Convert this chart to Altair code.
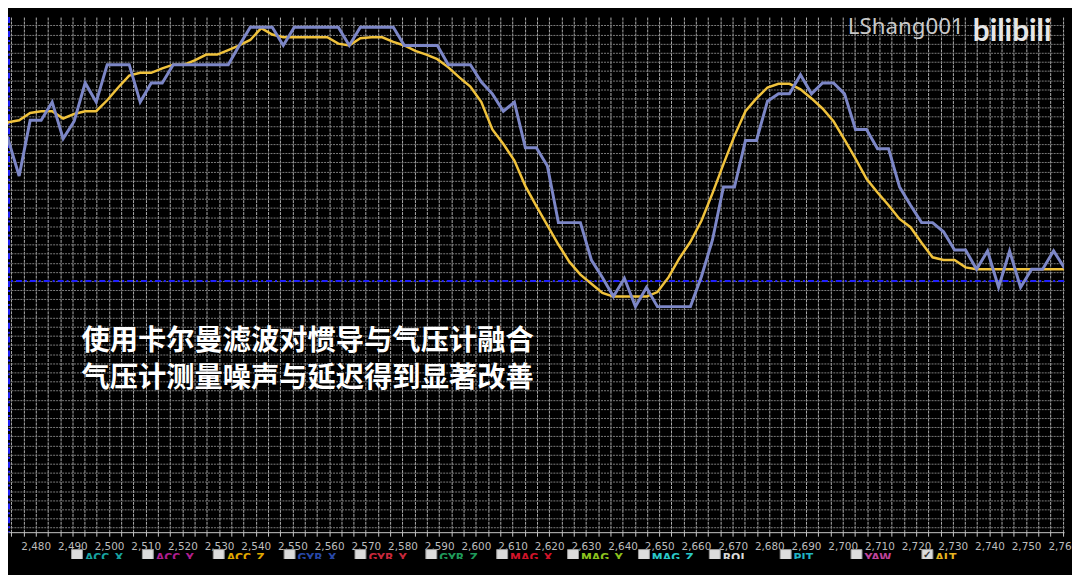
import altair as alt
import pandas as pd

# ---------------- data ----------------
t_start = 2469.5          # time of the first sample
t_step = 3.0              # sampling step

# raw barometer altitude (blue, stepped)
baro = [132, 155, 115, 176, 176, 196, 156, 175, 217, 196,
        237, 237, 237, 196, 217, 217, 237, 237, 237, 237,
        237, 237, 258, 278, 278, 278, 258, 278, 278, 278,
        278, 278, 258, 278, 278, 278, 278, 258, 258, 258,
        258, 237, 237, 237, 218, 205, 186, 196, 146, 146,
        126, 64, 64, 64, 23, 4, -17, 3, -28, -7,
        -28, -28, -28, -28, 5, 45, 103, 103, 154, 154,
        197, 205, 205, 226, 205, 217, 217, 205, 166, 166,
        145, 145, 103, 83, 64, 64, 54, 34, 34, 13,
        33, -7, 33, -7, 13, 13, 33, 14]

# Kalman fused altitude (yellow, smooth)
fused = [153, 174, 176, 184, 186, 186, 178, 183, 186, 186,
         198, 212, 225, 228, 228, 233, 237, 237, 242, 248,
         248, 253, 258, 264, 277, 270, 267, 267, 267, 267,
         267, 260, 258, 266, 267, 267, 262, 258, 252, 248,
         243, 234, 223, 213, 196, 166, 150, 132, 104, 82,
         61, 40, 21, 7, -3, -13, -17, -17, -17, -17,
         -12, 4, 25, 43, 66, 96, 128, 159, 186, 200,
         212, 216, 216, 210, 200, 189, 175, 155, 134, 112,
         97, 83, 68, 59, 42, 26, 23, 23, 15, 13,
         13, 13, 13, 13, 13, 13, 13, 13]

times = [t_start + t_step * i for i in range(len(baro))]

x_domain = [2472.46, 2760.35]
y_domain = [-275, 289.1]
x_grid = [2470 + 10 * i / 3 for i in range(1, 88)]
y_grid = list(range(-270, 290, 10))
zero_x = [2472.75]
zero_y = [0.0]

legend_names = ["ACC_X", "ACC_Y", "ACC_Z", "GYR_X", "GYR_Y", "GYR_Z",
                "MAG_X", "MAG_Y", "MAG_Z", "ROL", "PIT", "YAW", "ALT"]
legend_colors = ["#17a2a0", "#b01e8e", "#e0a800", "#2848a8", "#c8283c",
                 "#1f9a5a", "#d0142a", "#8cc21e", "#2ac8c8", "#d8d8d8",
                 "#20b4c4", "#c0449c", "#e6b422"]
legend_checked = [False] * 12 + [True]

captions = ["使用卡尔曼滤波对惯导与气压计融合", "气压计测量噪声与延迟得到显著改善"]
watermark_user = "LShang001"
watermark_logo = "bilibili"

# ---------------- frames ----------------
df = pd.DataFrame({"t": times, "baro": baro, "fused": fused})
zero_df = pd.DataFrame({"t": zero_x, "v": zero_y})
legend_df = pd.DataFrame({"idx": list(range(len(legend_names))), "name": legend_names,
                          "color": legend_colors, "checked": legend_checked})
one = pd.DataFrame({"k": [0]})

# ---------------- scales / axes ----------------
xs = alt.Scale(domain=x_domain, nice=False, zero=False)
ys = alt.Scale(domain=y_domain, nice=False, zero=False)

xaxis = alt.Axis(values=x_grid,
                 labelExpr="abs(datum.value - 10*round(datum.value/10)) < 0.01 ? format(datum.value, ',.0f') : ''",
                 grid=True, gridColor="#acacac", gridDash=[3, 1], gridWidth=1,
                 domainColor="#c8c8c8", tickColor="#c8c8c8", tickSize=4,
                 labelColor="#bdbdbd", labelFont="DejaVu Sans", labelFontSize=10.5,
                 labelPadding=5, labelFlush=False, labelOverlap=False, labelBound=False)
yaxis = alt.Axis(values=y_grid, grid=True, gridColor="#7c7c7c", gridDash=[2, 1], gridWidth=1,
                 labels=False, ticks=False, domain=False)

X = alt.X("t:Q", scale=xs, axis=xaxis, title=None)

base = alt.Chart(df).encode(x=X)
blue = base.mark_line(color="#7c86c6", strokeWidth=3, clip=True).encode(
    y=alt.Y("baro:Q", scale=ys, axis=yaxis, title=None))
yellow = base.mark_line(color="#f0c23c", strokeWidth=2.5, clip=True).encode(
    y=alt.Y("fused:Q", scale=ys, axis=yaxis, title=None))

vrule = alt.Chart(zero_df).mark_rule(color="#2020ff", strokeWidth=2, strokeDash=[6, 3, 2, 3]).encode(x=X)
hrule = alt.Chart(zero_df).mark_rule(color="#2020ff", strokeWidth=2, strokeDash=[6, 3, 2, 3]).encode(
    y=alt.Y("v:Q", scale=ys, axis=yaxis, title=None))

inner = alt.layer(hrule, vrule, yellow, blue)

# ---------------- decorations ----------------
lx = alt.X("idx:Q", scale=alt.Scale(domain=[0, 12], range=[69.5, 69.5 + 71.4 * 12]), axis=None)
boxes = alt.Chart(legend_df).mark_square(size=121, fill="#dcdcdc", stroke="#9a9a9a",
                                         strokeWidth=1, opacity=1).encode(x=lx, y=alt.value(542))
checks = alt.Chart(legend_df).transform_filter("datum.checked").mark_text(
    text="✓", fontSize=10, color="#333333", baseline="middle", fontWeight="bold").encode(x=lx, y=alt.value(542))
labels = alt.Chart(legend_df).mark_text(align="left", baseline="alphabetic", dx=8, fontSize=11,
                                        fontWeight="bold", font="DejaVu Sans").encode(
    x=lx, y=alt.value(548), text="name:N", color=alt.Color("color:N", scale=None))
cut = alt.Chart(one).mark_rect(color="#000000").encode(
    x=alt.value(0), x2=alt.value(1072), y=alt.value(546), y2=alt.value(575))

cap1 = alt.Chart(one).mark_text(text=captions[0], align="left", baseline="middle",
                                font="Noto Sans CJK SC", fontSize=28.5, fontWeight="bold",
                                color="#ffffff").encode(x=alt.value(74), y=alt.value(326))
cap2 = alt.Chart(one).mark_text(text=captions[1], align="left", baseline="middle",
                                font="Noto Sans CJK SC", fontSize=28.5, fontWeight="bold",
                                color="#ffffff").encode(x=alt.value(74), y=alt.value(364))
wm1 = alt.Chart(one).mark_text(text=watermark_user, align="left", baseline="middle",
                               font="Noto Sans", fontSize=22.5, color="#c8c8c8").encode(
    x=alt.value(846), y=alt.value(10))
wm2 = alt.Chart(one).mark_text(text=watermark_logo, align="left", baseline="alphabetic",
                               font="Lato", fontSize=30, fontWeight="bold", color="#e6e6e6").encode(
    x=alt.value(972), y=alt.value(24))

chart = alt.layer(inner, boxes, checks, labels, cut, cap1, cap2, wm1, wm2).resolve_scale(
    x="independent"
).properties(
    width=1064, height=519,
    padding={"left": 0, "top": 7, "right": 8, "bottom": 41},
    autosize=alt.AutoSizeParams(type="none"),
    background="#000000",
).configure_view(stroke=None)

chart.save("out.html", embed_options={"renderer": "svg", "actions": False})
